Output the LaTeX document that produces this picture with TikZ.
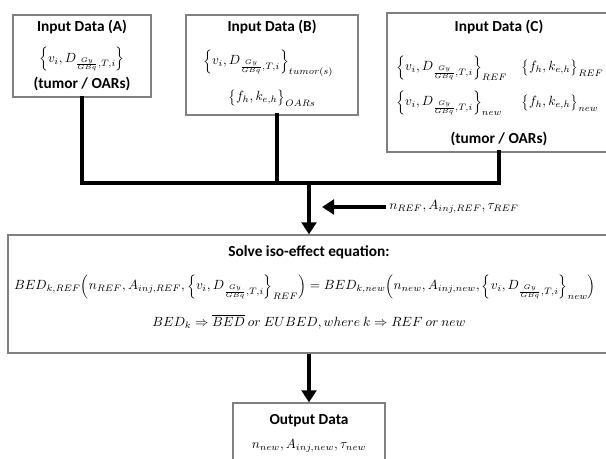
\documentclass[tikz,border=0pt]{standalone}
\usepackage{fontspec}
\setmainfont{Carlito}
\usetikzlibrary{arrows.meta}

% repeated math fragments
\newcommand{\voxset}{\Bigl\{v_i, D_{\frac{Gy}{GBq},T,i}\Bigr\}}
\newcommand{\oarset}{\bigl\{f_h, k_{e,h}\bigr\}}

\begin{document}
\begin{tikzpicture}[x=0.75pt,y=-0.75pt,
  box/.style={draw=black!50,line width=0.9pt,fill=white,rectangle,inner sep=0pt},
  head/.style={font=\fontsize{11.5}{13}\selectfont\bfseries,inner sep=0pt},
  txt/.style={font=\fontsize{10}{12}\selectfont,inner sep=0pt},
  eqn/.style={font=\fontsize{9.8}{12}\selectfont,inner sep=0pt},
  bus/.style={line width=3pt,line cap=rect},
  bigarrow/.style={line width=3pt,-{Triangle[width=11pt,length=9pt]}}]
\useasboundingbox (0,0) rectangle (606,459);
\clip (0,0) rectangle (606,459);

% input boxes
\node[box,minimum width=103.5pt,minimum height=61.5pt] (A) at (82,56) {};
\node[head] at (82,27) {Input Data (A)};
\node[txt,font=\fontsize{9.6}{12}\selectfont] at (82,59) {$\voxset$};
\node[head] at (82,84) {(tumor / OARs)};

\node[box,minimum width=129pt,minimum height=75pt] (B) at (272,65) {};
\node[head] at (272,27) {Input Data (B)};
\node[txt,anchor=west] at (203,63) {$\voxset_{tumor(s)}$};
\node[txt] at (272,98) {$\oarset_{OARs}$};

\node[box,minimum width=197.25pt,minimum height=104.25pt] (C) at (518.5,82.5) {};
\node[head] at (499,27) {Input Data (C)};
\node[txt,anchor=west] at (396,68) {$\voxset_{REF}$};
\node[txt,anchor=west] at (521,68) {$\oarset_{REF}$};
\node[txt,anchor=west] at (396,103) {$\voxset_{new}$};
\node[txt,anchor=west] at (521,103) {$\oarset_{new}$};
\node[head] at (499,139) {(tumor / OARs)};

% equation box
\node[box,minimum width=481.5pt,minimum height=88.5pt] (S) at (329,294) {};
\node[head] at (309,252) {Solve iso-effect equation:};
\node[eqn] at (305,287) {$BED_{k,REF}\Bigl(n_{REF}, A_{inj,REF}, \voxset_{REF}\Bigr) = BED_{k,new}\Bigl(n_{new}, A_{inj,new}, \voxset_{new}\Bigr)$};
\node[txt] at (309,322) {$BED_k \Rightarrow \overline{BED}\ or\ EUBED, where\ k \Rightarrow REF\ or\ new$};

% output box
\node[box,minimum width=114pt,minimum height=57.75pt] (O) at (309,441.5) {};
\node[head] at (309,421) {Output Data};
\node[txt] at (309,446) {$n_{new}, A_{inj,new}, \tau_{new}$};

% collecting lines and arrows
\coordinate (J) at (309,183);
\coordinate (Bout) at (277,115);
\coordinate (Cout) at (499,152);
\draw[bus] (A.south) |- (J) -| (Cout);
\draw[bus] (Bout) -- (Bout |- J);
\draw[bigarrow] (J) -- (S.north -| J);
\draw[bigarrow] (S.south -| J) -- (O.north);

\node[txt,anchor=west] (P) at (389,207) {$n_{REF}, A_{inj,REF}, \tau_{REF}$};
\coordinate (Pend) at (322,207);
\draw[bigarrow] (P.west) ++(-3,0) -- (Pend);
\end{tikzpicture}
\end{document}
